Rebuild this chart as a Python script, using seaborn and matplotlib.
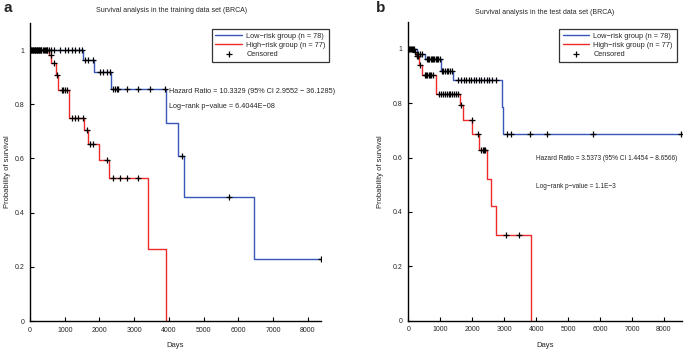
import numpy as np
import pandas as pd
import seaborn as sns
import matplotlib.pyplot as plt
from matplotlib.ticker import FormatStrFormatter

# --- panel a: training set ---
low_a_days = [0, 1540, 1850, 2330, 3920, 4265, 4440, 6455, 8390]
low_a_surv = [1, 0.963, 0.92, 0.856, 0.73, 0.61, 0.459, 0.229, 0.229]
low_a_cens = [30, 60, 90, 120, 150, 180, 210, 240, 270, 300, 330, 360, 400, 450, 500,
              550, 600, 700, 850, 1000, 1100, 1200, 1300, 1400, 1500, 1585, 1680, 1825,
              2017, 2113, 2210, 2305, 2400, 2450, 2500, 2545, 2790, 3120, 3460, 3890,
              4380, 5740, 8390]

high_a_days = [0, 556, 605, 760, 820, 1133, 1556, 1662, 1988, 2285, 3410, 3930]
high_a_surv = [1, 0.98, 0.953, 0.908, 0.852, 0.748, 0.705, 0.652, 0.594, 0.527, 0.266, 0.0]
high_a_cens = [40, 80, 130, 200, 260, 330, 420, 500, 600, 700, 770, 913, 960, 1010, 1058,
               1200, 1297, 1393, 1518, 1633, 1729, 1825, 2210, 2400, 2594, 2787, 3120]

# --- panel b: test set ---
low_b_days = [0, 260, 520, 1010, 1405, 2920, 2950, 8520]
low_b_surv = [1, 0.982, 0.963, 0.92, 0.884, 0.786, 0.688, 0.688]
low_b_cens = [60, 120, 180, 300, 360, 420, 575, 620, 660, 700, 740, 780, 820, 860, 900,
              940, 980, 1045, 1100, 1150, 1200, 1250, 1300, 1355, 1570, 1650, 1730, 1810,
              1890, 1970, 2050, 2130, 2210, 2290, 2370, 2450, 2530, 2610, 2760, 3080,
              3200, 3800, 4330, 5770, 8520]

high_b_days = [0, 178, 240, 330, 420, 855, 1615, 1700, 2000, 2210, 2450, 2585, 2760, 3855]
high_b_surv = [1, 0.988, 0.973, 0.94, 0.905, 0.835, 0.792, 0.74, 0.688, 0.627, 0.523,
               0.421, 0.315, 0.0]
high_b_cens = [30, 90, 150, 210, 280, 300, 370, 520, 560, 600, 640, 680, 720, 780, 960,
               1020, 1080, 1140, 1200, 1260, 1320, 1380, 1440, 1500, 1550, 1650, 1980,
               2190, 2290, 2330, 2370, 2410, 3050, 3470]

labels = ['Low\u2212risk group (n = 78)', 'High\u2212risk group (n = 77)', 'Censored']
titles = ['Survival analysis in the training data set (BRCA)',
          'Survival analysis in the test data set (BRCA)']
hr_text = ['Hazard Ratio = 10.3329 (95% CI 2.9552 \u2212 36.1285)',
           'Hazard Ratio = 3.5373 (95% CI 1.4454 \u2212 8.6566)']
p_text = ['Log\u2212rank p\u2212value = 6.4044E\u221208',
          'Log\u2212rank p\u2212value = 1.1E\u22123']

BLUE = '#3656b8'
RED = '#ee2a2a'

sns.set_style('white')
plt.rcParams['font.family'] = ['Liberation Sans', 'DejaVu Sans']
plt.rcParams['axes.unicode_minus'] = True

fig = plt.figure(figsize=(6.85, 3.49), dpi=100)
ax_a = fig.add_axes([0.0438, 0.0802, 0.4248, 0.854])
ax_b = fig.add_axes([0.596, 0.0810, 0.399, 0.857])


def step_value(days, surv, t):
    idx = np.searchsorted(days, t, side='right') - 1
    return np.array(surv)[idx]


def km_panel(ax, low, high, xmax, ylab_x):
    for (d, s, c), col, lab in [(low, BLUE, labels[0]), (high, RED, labels[1])]:
        df = pd.DataFrame({'days': d, 'surv': s})
        sns.lineplot(data=df, x='days', y='surv', drawstyle='steps-post', estimator=None,
                     sort=False, color=col, lw=1.0, ax=ax, label=lab)
    for i, (d, s, c) in enumerate([low, high]):
        cdf = pd.DataFrame({'days': c, 'surv': step_value(d, s, c)})
        sns.scatterplot(data=cdf, x='days', y='surv', marker='+', color='black', s=22,
                        linewidth=0.9, ax=ax, zorder=5,
                        label=labels[2] if i == 0 else None)
    ax.set_xlim(0, xmax)
    ax.set_ylim(0, 1.1)
    ax.set_xticks(np.arange(0, 8001, 1000))
    ax.set_yticks([0, 0.2, 0.4, 0.6, 0.8, 1])
    ax.yaxis.set_major_formatter(FormatStrFormatter('%g'))
    ax.tick_params(direction='in', length=3, width=0.8, labelsize=5, pad=4,
                   left=True, bottom=True, color='black')
    sns.despine(ax=ax)
    for sp in ['left', 'bottom']:
        ax.spines[sp].set_color('black')
        ax.spines[sp].set_linewidth(1.0)
    ax.set_xlabel('Days', fontsize=5.5, labelpad=6)
    ax.set_ylabel('Probability of survival', fontsize=5.5)
    ax.yaxis.set_label_coords(ylab_x, 0.5)


km_panel(ax_a, (low_a_days, low_a_surv, low_a_cens),
         (high_a_days, high_a_surv, high_a_cens), 8380, -0.066)
km_panel(ax_b, (low_b_days, low_b_surv, low_b_cens),
         (high_b_days, high_b_surv, high_b_cens), 8550, -0.088)

for ax, anchor in [(ax_a, (0.486, 0.928)), (ax_b, (0.993, 0.928))]:
    h, l = ax.get_legend_handles_labels()
    leg = ax.legend(h, l, loc='upper right', bbox_to_anchor=anchor,
                    bbox_transform=fig.transFigure, fontsize=5.3, frameon=True,
                    fancybox=False, edgecolor='black', borderpad=0.5,
                    handlelength=3.6, labelspacing=0.3, handletextpad=0.6)
    leg.get_frame().set_linewidth(0.9)

fig.text(172 / 685, 1 - 11 / 349, titles[0], fontsize=5, ha='center', va='center')
fig.text(545 / 685, 1 - 13 / 349, titles[1], fontsize=5, ha='center', va='center')
fig.text(3 / 685, 1 - 8 / 349, 'a', fontsize=11, fontweight='bold', va='center')
fig.text(376 / 685, 1 - 8 / 349, 'b', fontsize=11, fontweight='bold', va='center')

ax_a.text(4000, 0.847, hr_text[0], fontsize=5.2, va='center')
ax_a.text(4000, 0.793, p_text[0], fontsize=5.2, va='center')
ax_b.text(3990, 0.598, hr_text[1], fontsize=4.7, va='center')
ax_b.text(3990, 0.494, p_text[1], fontsize=4.7, va='center')

fig.savefig('out.png', dpi=100)
